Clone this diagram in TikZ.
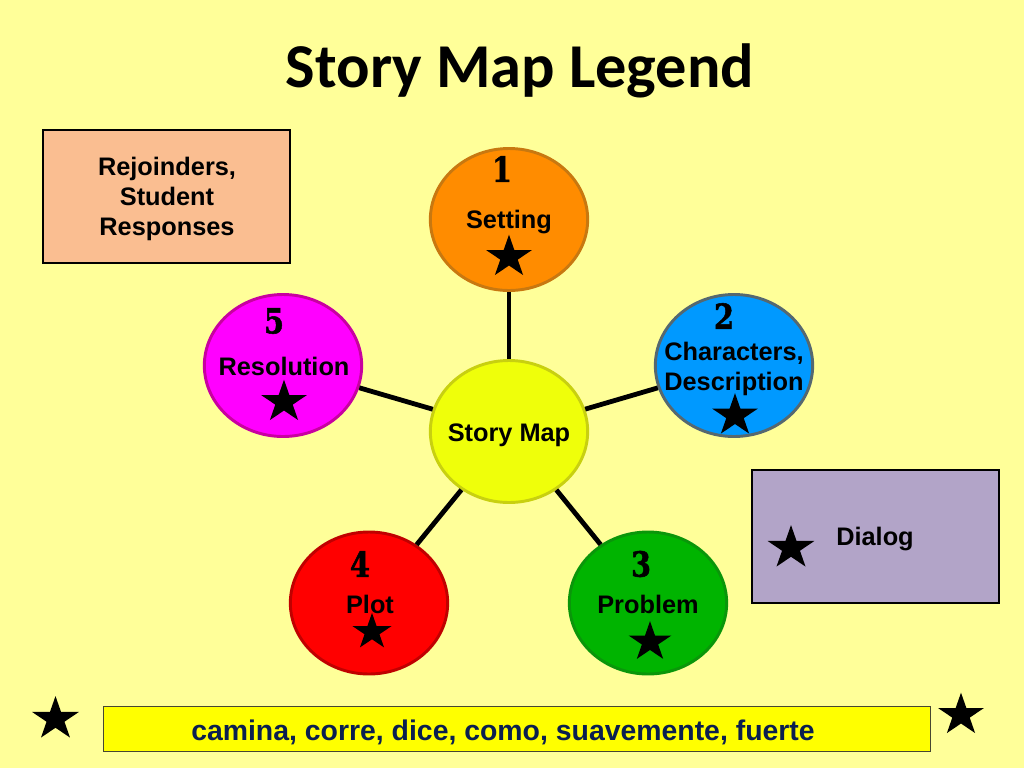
\documentclass[tikz,border=0pt]{standalone}
\usepackage{fontspec}
\usepackage{xcolor}
\usepackage{tikz}
\usetikzlibrary{shapes.geometric}
\setmainfont{Liberation Sans}
\newfontfamily\titlefont{Carlito}
\newfontfamily\digitfont[BoldFeatures={FakeBold=1.5}]{DejaVu Serif Condensed}
\def\lbl#1{\textbf{#1}}
\def\digit#1{\scalebox{0.92}[1]{\digitfont\bfseries #1}}
\definecolor{paper}{HTML}{FFFF99}
\definecolor{navy}{HTML}{0A1F4F}
\definecolor{strip}{HTML}{FFFF00}

\begin{document}
\begin{tikzpicture}[x=0.75pt,y=-0.75pt]
    \tikzstyle{every node}=[font=\fontsize{19}{22.5}\selectfont,align=center]
    \tikzstyle{topic}=[ellipse,draw,line width=2.2pt,inner sep=0pt,minimum width=118pt,minimum height=106.5pt]
    \tikzstyle{card}=[draw=black,line width=1.5pt,anchor=north west,inner sep=0pt]
    \tikzstyle{starmark}=[star,star points=5,star point ratio=2.618,fill=black,inner sep=0pt,transform shape,yscale=0.93]
    \tikzstyle{num}=[font=\fontsize{26}{26}\selectfont,inner sep=0pt]
    \tikzstyle{spoke}=[line width=3.6pt]
    \fill[paper,use as bounding box] (0,0) rectangle (1024,768);
    \node (title) at (520,71) {\titlefont\fontsize{46.8}{52}\selectfont\bfseries Story Map Legend};

    % hub and topics
    \node[topic,fill={rgb,255:red,239;green,255;blue,10},draw={rgb,255:red,200;green,208;blue,16}] (hub) at (509,431.5) {};
    \node[topic,fill={rgb,255:red,255;green,140;blue,0},draw={rgb,255:red,200;green,120;blue,16}] (setting) at (509,219.5) {};
    \node[topic,fill={rgb,255:red,0;green,153;blue,255},draw={rgb,255:red,85;green,104;blue,112}] (characters) at (734,365.5) {};
    \node[topic,fill={rgb,255:red,0;green,180;blue,0},draw={rgb,255:red,10;green,150;blue,10}] (problem) at (648,603) {};
    \node[topic,fill={rgb,255:red,255;green,0;blue,0},draw={rgb,255:red,192;green,0;blue,0}] (plot) at (369,603) {};
    \node[topic,fill={rgb,255:red,255;green,0;blue,255},draw={rgb,255:red,200;green,0;blue,160}] (resolution) at (283,365.5) {};

    \draw[spoke] (hub) -- (setting);
    \draw[spoke] (hub) -- (characters);
    \draw[spoke] (hub) -- (problem);
    \draw[spoke] (hub) -- (plot);
    \draw[spoke] (hub) -- (resolution);

    % texts on the topics
    \node (hubtext) at (509,435) {\lbl{Story Map}};
    \node (settingtext) at (509,222) {\lbl{Setting}};
    \node (characterstext) at (734,369) {\lbl{Characters,}\\\lbl{Description}};
    \node (problemtext) at (648,604) {\lbl{Problem}};
    \node (plottext) at (370,604) {\lbl{Plot}};
    \node (resolutiontext) at (284,366) {\lbl{Resolution}};

    \node[num] (one) at (502,169) {\digit{1}};
    \node[num] (two) at (724,316) {\digit{2}};
    \node[num] (three) at (641,564) {\digit{3}};
    \node[num] (four) at (360,564) {\digit{4}};
    \node[num] (five) at (274,321) {\digit{5}};

    \node[starmark,minimum size=36pt] (settingstar) at (509,257) {};
    \node[starmark,minimum size=36pt] (characterstar) at (735,415.5) {};
    \node[starmark,minimum size=33.6pt] (problemstar) at (650,642) {};
    \node[starmark,minimum size=30.8pt] (plotstar) at (372,632) {};
    \node[starmark,minimum size=36pt] (resolutionstar) at (284,402) {};

    % side boxes
    \node[card,fill={rgb,255:red,250;green,190;blue,145},minimum width=185.5pt,minimum height=100pt] (rejoinders) at (42,129) {};
    \node (rejoinderstext) at (167,199) {\lbl{Rejoinders,}\\\lbl{Student}\\\lbl{Responses}};
    \node[card,fill={rgb,255:red,178;green,164;blue,200},minimum width=185.5pt,minimum height=100pt] (dialog) at (751,469) {};
    \node (dialogtext) at (875,539) {\lbl{Dialog}};
    \node[starmark,minimum size=37pt] (dialogstar) at (791,548) {};

    % word strip
    \node[card,draw={rgb,255:red,70;green,70;blue,50},line width=1pt,fill=strip,minimum width=620pt,minimum height=33.5pt] (words) at (103,706) {};
    \node[text=navy,font=\fontsize{21.3}{24}\selectfont] (wordstext) at (503,732) {\lbl{camina, corre, dice, como, suavemente, fuerte}};
    \node[starmark,minimum size=37pt] (leftstar) at (55.5,719) {};
    \node[starmark,minimum size=36pt] (rightstar) at (961,715) {};
\end{tikzpicture}
\end{document}
